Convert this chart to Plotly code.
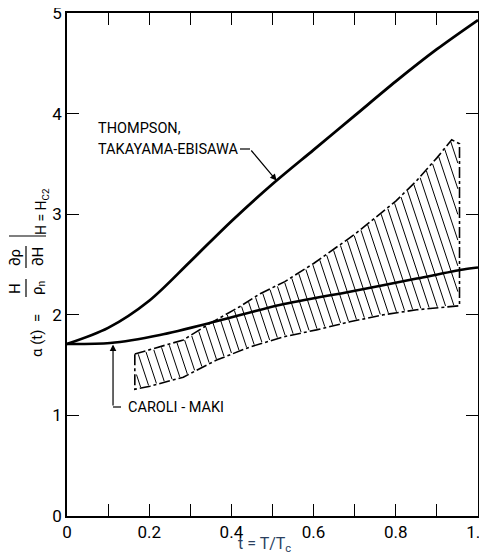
import numpy as np
import plotly.graph_objects as go

# Thompson, Takayama-Ebisawa theory
t_thompson = [0, 0.10, 0.20, 0.30, 0.40, 0.50, 0.60, 0.70, 0.80, 0.90, 1.00]
a_thompson = [1.71, 1.87, 2.14, 2.53, 2.93, 3.30, 3.64, 3.98, 4.32, 4.64, 4.93]

# Caroli-Maki theory
t_caroli = [0, 0.105, 0.226, 0.368, 0.52, 0.688, 0.851, 0.964, 1.0]
a_caroli = [1.71, 1.72, 1.80, 1.94, 2.10, 2.23, 2.36, 2.45, 2.47]

# Experimental band (upper and lower boundaries)
t_upper = [0.165, 0.20, 0.283, 0.35, 0.42, 0.47, 0.53, 0.60, 0.70, 0.80, 0.85, 0.90, 0.936, 0.955]
a_upper = [1.61, 1.65, 1.75, 1.92, 2.08, 2.21, 2.33, 2.51, 2.80, 3.13, 3.33, 3.56, 3.74, 3.70]
t_lower = [0.165, 0.202, 0.283, 0.364, 0.445, 0.526, 0.607, 0.688, 0.77, 0.851, 0.955]
a_lower = [1.26, 1.29, 1.38, 1.55, 1.68, 1.78, 1.85, 1.93, 2.00, 2.05, 2.09]

x_tickvals = [0, 0.2, 0.4, 0.6, 0.8, 1.0]
x_ticktext = ["0", "0.2", "0.4", "0.6", "0.8", "1.0"]
x_minor = [0.1, 0.3, 0.5, 0.7, 0.9]
y_tickvals = [0, 1, 2, 3, 4, 5]

FONT = "Roboto, Liberation Sans, sans-serif"
OFF = 8  # page body margin
W, H = 487 - OFF, 560 - OFF
L, R, T, B = 67 - OFF, 9, 13 - OFF, 44
PW, PH = W - L - R, H - T - B


def px(x):
    return (x - OFF - L) / PW


def py(y):
    return (H - B - (y - OFF)) / PH


fig = go.Figure()

# hatch lines inside band (computed from band boundaries)
t0, t1 = t_upper[0], t_upper[-1]
k = 0.081
alphas = np.arange(1.0, 4.0, 0.002)
hx, hy = [], []
for c in np.arange(t0 + k * 1.2, t1 + k * 3.9, 0.0207):
    tt = c - k * alphas
    lo = np.interp(tt, t_lower, a_lower)
    up = np.interp(tt, t_upper, a_upper)
    inside = (tt >= t0 + 0.004) & (tt <= t1 - 0.004) & (alphas >= lo + 0.01) & (alphas <= up - 0.01)
    idx = np.where(inside)[0]
    if len(idx) < 2:
        continue
    i0, i1 = idx[0], idx[-1]
    hx += [tt[i0], tt[i1], None]
    hy += [alphas[i0], alphas[i1], None]
fig.add_trace(go.Scatter(x=hx, y=hy, mode="lines", line=dict(color="black", width=1),
                         hoverinfo="skip", showlegend=False))

# band outline
bx = list(t_upper) + list(t_lower[::-1]) + [t_upper[0]]
by = list(a_upper) + list(a_lower[::-1]) + [a_upper[0]]
fig.add_trace(go.Scatter(x=bx, y=by, mode="lines",
                         line=dict(color="black", width=1.6, dash="11px,3px,3px,3px"),
                         showlegend=False))

fig.add_trace(go.Scatter(x=t_thompson, y=a_thompson, mode="lines", line_shape="spline",
                         line=dict(color="black", width=2.8, smoothing=0.9), showlegend=False))
fig.add_trace(go.Scatter(x=t_caroli, y=a_caroli, mode="lines", line_shape="spline",
                         line=dict(color="black", width=2.6, smoothing=0.8), showlegend=False))

ann = []
shapes = []
tf = dict(family=FONT, size=14.5, color="black")
ann.append(dict(x=px(96), y=py(128), xref="paper", yref="paper", text="THOMPSON,",
                xanchor="left", yanchor="middle", showarrow=False, font=tf))
ann.append(dict(x=px(96), y=py(149), xref="paper", yref="paper", text="TAKAYAMA-EBISAWA",
                xanchor="left", yanchor="middle", showarrow=False, font=tf))
th_x = 0.51
ann.append(dict(x=th_x, y=float(np.interp(th_x, t_thompson, a_thompson)), xref="x", yref="y",
                ax=(250 - OFF - L) / PW, ay=(H - B - (149 - OFF)) / (PH / 5), axref="x", ayref="y",
                text="", showarrow=True, arrowhead=2, arrowsize=1.1, arrowwidth=1.2, arrowcolor="black"))
shapes.append(dict(type="line", xref="paper", yref="paper", x0=px(240), x1=px(250), y0=py(149), y1=py(149),
                   line=dict(color="black", width=1.2)))

cm_x = 0.112
ann.append(dict(x=cm_x, y=float(np.interp(cm_x, t_caroli, a_caroli)) - 0.02, xref="x", yref="y",
                ax=cm_x, ay=(H - B - (407 - OFF)) / (PH / 5), axref="x", ayref="y",
                text="", showarrow=True, arrowhead=2, arrowsize=1.1, arrowwidth=1.2, arrowcolor="black"))
shapes.append(dict(type="line", xref="paper", yref="paper", x0=cm_x, x1=px(121), y0=py(407), y1=py(407),
                   line=dict(color="black", width=1.2)))
ann.append(dict(x=px(126), y=py(407), xref="paper", yref="paper", text="CAROLI - MAKI",
                xanchor="left", yanchor="middle", showarrow=False, font=tf))

# x axis title
ann.append(dict(x=px(264), y=py(544), xref="paper", yref="paper", text="t = T/T<sub>c</sub>",
                xanchor="center", yanchor="middle", showarrow=False, font=dict(family=FONT, size=16)))


def rot(text, x, y, size=15):
    ann.append(dict(x=px(x), y=py(y), xref="paper", yref="paper", text=text, textangle=-90,
                    xanchor="center", yanchor="middle", showarrow=False,
                    font=dict(family=FONT, size=size, color="black")))


rot("α (t)  =", 37, 336)
rot("H", 15, 288)
rot("ρ<sub>n</sub>", 38, 288)
rot("∂ρ", 15, 257)
rot("∂H", 38, 257)
rot("H = H<sub>C2</sub>", 42, 212, 14)
for (yc, hh) in [(288, 9), (257, 11)]:
    shapes.append(dict(type="line", xref="paper", yref="paper", x0=px(26), x1=px(26),
                       y0=py(yc - hh), y1=py(yc + hh), line=dict(color="black", width=1.2)))
shapes.append(dict(type="line", xref="paper", yref="paper", x0=px(9), x1=px(46),
                   y0=py(236), y1=py(236), line=dict(color="black", width=1.2)))

axis_common = dict(showline=True, linecolor="black", linewidth=1.6, mirror="ticks",
                   ticks="inside", ticklen=12, tickwidth=1.1, tickcolor="black",
                   showgrid=False, zeroline=False, automargin=False, ticklabeloverflow="allow",
                   tickfont=dict(family=FONT, size=17, color="black"))

fig.update_layout(
    width=W, height=H,
    margin=dict(l=L, r=R, t=T, b=B),
    paper_bgcolor="white", plot_bgcolor="white",
    xaxis=dict(range=[0, 1], tickvals=x_tickvals, ticktext=x_ticktext,
               minor=dict(tickvals=x_minor, ticks="inside", ticklen=12, tickwidth=1.1, tickcolor="black"),
               **axis_common),
    yaxis=dict(range=[0, 5], tickvals=y_tickvals, **axis_common),
    annotations=ann, shapes=shapes, showlegend=False,
)

fig.write_html("out.html")
